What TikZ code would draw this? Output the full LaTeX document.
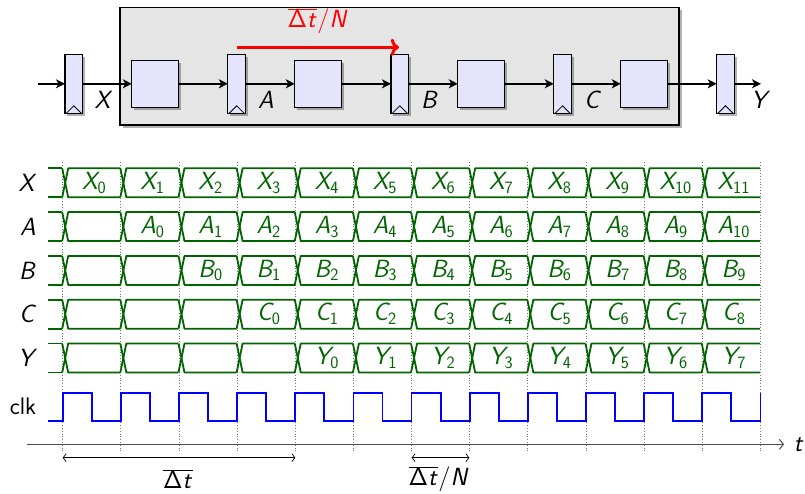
\documentclass[tikz,border=0pt]{standalone}
\usetikzlibrary{arrows.meta,shadows}
\DeclareMathAlphabet{\mathsfit}{OT1}{cmss}{m}{sl}
\DeclareMathAlphabet{\mathsfup}{OT1}{cmss}{m}{n}
\DeclareMathSizes{24}{24}{19}{14}
\newcommand{\vv}[1]{\mathsfit{#1}}
\definecolor{regfill}{RGB}{228,228,252}
\definecolor{stagefill}{RGB}{229,229,229}
\definecolor{busgreen}{RGB}{0,100,0}
\definecolor{clkblue}{RGB}{0,0,255}
\tikzset{
  shad/.style={drop shadow={shadow xshift=2.5pt,shadow yshift=-2.5pt,fill=black,opacity=0.3}},
  stage/.style={draw,line width=1.2pt,fill=stagefill,minimum width=559pt,minimum height=117.7pt,outer sep=0pt,shad},
  reg/.style={draw,line width=1.2pt,fill=regfill,minimum width=17.7pt,minimum height=59pt,inner sep=0pt,outer sep=0pt,shad},
  blk/.style={draw,line width=1.2pt,fill=regfill,minimum width=47pt,minimum height=47pt,inner sep=0pt,outer sep=0pt,shad},
  clkmark/.style={line width=0.8pt},
  wire/.style={line width=1.8pt,-{Stealth[length=9pt,width=9pt,inset=2.5pt]}},
  bus/.style={busgreen,line width=1.8pt,line join=round},
  grid/.style={black!55,dotted,line width=0.8pt},
  clksig/.style={clkblue,line width=1.8pt,line join=miter},
  lab/.style={inner sep=0pt},
  axisline/.style={black!70,line width=1pt,-{Straight Barb[length=4pt,width=10pt]}},
  dimarrow/.style={line width=0.7pt,{Straight Barb[length=3pt,width=8pt]}-{Straight Barb[length=3pt,width=8pt]}}
}
\begin{document}
\begin{tikzpicture}[x=1pt,y=-1pt,font=\fontsize{24}{28}\selectfont\sffamily]
\useasboundingbox (0,0) rectangle (805,494);
% ---------- pipeline ----------
\node[stage] (stage) at (399.5,66.2) {};
\foreach \i/\x in {0/73.8,1/236.7,2/399.8,3/562.6,4/725.5} {
  \node[reg] (r\i) at (\x,83.8) {};
  \draw[clkmark] ([xshift=-7.5pt]r\i.south) -- ([yshift=7.5pt]r\i.south) -- ([xshift=7.5pt]r\i.south);
}
\foreach \i/\x in {0/155.3,1/318.3,2/481.3,3/644.3} \node[blk] (b\i) at (\x,83.8) {};
\coordinate (in) at (38,83.8);
\coordinate (out) at (761,83.8);
\draw[wire] (in) -- (r0.west);
\draw[wire] (r0.east) -- (b0.west);
\draw[wire] (b0.east) -- (r1.west);
\draw[wire] (r1.east) -- (b1.west);
\draw[wire] (b1.east) -- (r2.west);
\draw[wire] (r2.east) -- (b2.west);
\draw[wire] (b2.east) -- (r3.west);
\draw[wire] (r3.east) -- (b3.west);
\draw[wire] (b3.east) -- (r4.west);
\draw[wire] (r4.east) -- (out);
\node[lab] (lX) at (104,100) {$\vv{X}$};
\node[lab] (lA) at (266,100) {$\vv{A}$};
\node[lab] (lB) at (430,100) {$\vv{B}$};
\node[lab] (lC) at (593,100) {$\vv{C}$};
\node[lab] (lY) at (761,100) {$\vv{Y}$};
\coordinate (ra) at (236.7,47.3);
\coordinate (rb) at (399,47.3);
\draw[red,line width=3pt,->] (ra) -- (rb);
\node[lab,red] (rl) at (318,21) {$\overline{\mathsfup{\Delta}\vv{t}}/\vv{N}$};
% ---------- timing ----------
\foreach \k in {0,...,12} \draw[grid] ({62.7+58.14*\k},162) -- ({62.7+58.14*\k},452);
\foreach \r/\nm in {0/X,1/A,2/B,3/C,4/Y} {
  \pgfmathsetmacro\yc{182.8+43.8*\r}
  \pgfmathsetmacro\yt{\yc-14.5}
  \pgfmathsetmacro\yb{\yc+14.5}
  \node[lab] (row\r) at (28,\yc) {$\vv{\nm}$};
  \draw[bus] (48,\yt) -- (62.2,\yt) (48,\yb) -- (62.2,\yb);
  \foreach \k in {0,...,11} {
    \pgfmathsetmacro\ea{62.2+58.14*\k}
    \pgfmathsetmacro\eb{\ea+6}
    \pgfmathsetmacro\en{62.2+58.14*(\k+1)}
    \draw[bus] (\ea,\yt) -- (\eb,\yb) -- (\en,\yb);
    \draw[bus] (\ea,\yb) -- (\eb,\yt) -- (\en,\yt);
    \pgfmathtruncatemacro\idx{\k-\r}
    \ifnum\idx<0 \else
      \node[lab,busgreen] (s\r-\k) at ({(\eb+\en)/2},\yc) {$\vv{\nm}_{\mathsfup{\idx}}$};
    \fi
  }
}
\node[lab] (clklab) at (23,406) {clk};
\draw[clksig] (48,421) foreach \k in {0,...,11} { -- ({62.7+58.14*\k},421) -- ++(0,-28.3) -- ++(29.07,0) -- ++(0,28.3) } -- (760.4,421) -- (760.4,392.7);
\coordinate (ax0) at (27,444.3);
\coordinate (ax1) at (784,444.3);
\draw[axisline] (ax0) -- (ax1);
\node[lab] (tlab) at (799,445) {$\vv{t}$};
\coordinate (d0) at (62.7,457.7);
\coordinate (d1) at (295.3,457.7);
\coordinate (d2) at (411.7,457.7);
\coordinate (d3) at (469.3,457.7);
\draw[dimarrow] (d0) -- (d1);
\draw[dimarrow] (d2) -- (d3);
\node[lab] (dl1) at (178,479) {$\overline{\mathsfup{\Delta}\vv{t}}$};
\node[lab] (dl2) at (439,479) {$\overline{\mathsfup{\Delta}\vv{t}}/\vv{N}$};
\end{tikzpicture}
\end{document}
